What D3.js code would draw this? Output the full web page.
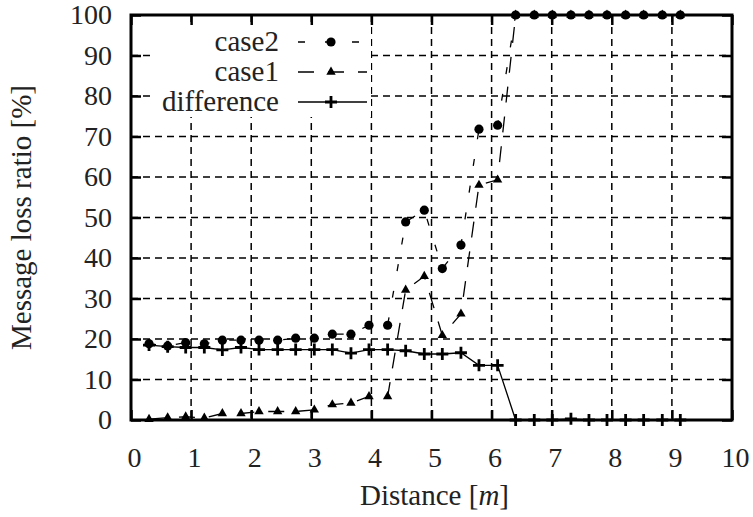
<!DOCTYPE html>
<html>
<head>
<meta charset="utf-8">
<script src="https://cdn.jsdelivr.net/npm/d3@7"></script>
<style>
body { margin: 0; background: #fff; }
text { font-family: "Liberation Serif", "Times New Roman", serif; fill: #222; }
</style>
</head>
<body>
<svg width="753" height="517"></svg>
<script>
var distance = [0.30, 0.61, 0.91, 1.22, 1.52, 1.83, 2.13, 2.44, 2.74, 3.05,
    3.35, 3.66, 3.96, 4.27, 4.57, 4.88, 5.18, 5.49, 5.79, 6.10,
    6.40, 6.71, 7.01, 7.32, 7.62, 7.92, 8.23, 8.53, 8.84, 9.14];
var case2 = [18.8, 18.3, 19.1, 18.8, 19.7, 19.7, 19.7, 19.7, 20.2, 20.2,
    21.2, 21.2, 23.4, 23.4, 48.9, 51.8, 37.4, 43.2, 71.8, 72.8,
    100, 100, 100, 100, 100, 100, 100, 100, 100, 100];
var case1 = [0.2, 0.6, 0.8, 0.5, 1.6, 1.6, 2.1, 2.1, 2.1, 2.5,
    3.8, 4.2, 5.8, 5.8, 32.1, 35.5, 20.9, 26.2, 58.0, 59.3,
    100, 100, 100, 100, 100, 100, 100, 100, 100, 100];
var difference = [18.5, 18.1, 17.9, 17.9, 17.3, 17.9, 17.4, 17.4, 17.4, 17.4,
    17.4, 16.5, 17.4, 17.4, 17.1, 16.3, 16.3, 16.6, 13.5, 13.5,
    0, 0, 0, 0.3, 0, 0, 0, 0, 0, 0];
var xTicks = [0, 1, 2, 3, 4, 5, 6, 7, 8, 9, 10];
var yTicks = [0, 10, 20, 30, 40, 50, 60, 70, 80, 90, 100];

var svg = d3.select("svg");
var plotLeft = 131, plotRight = 732, plotTop = 15, plotBottom = 420;
var width = plotRight - plotLeft, height = plotBottom - plotTop;

var x = d3.scaleLinear().domain([0, 10]).range([0, width]);
var y = d3.scaleLinear().domain([0, 100]).range([height, 0]);

var g = svg.append("g").attr("transform", "translate(" + plotLeft + "," + plotTop + ")");

// dashed grid
g.selectAll(".vgrid")
    .data(xTicks.slice(1, -1))
    .enter().append("line")
    .attr("x1", d => x(d)).attr("x2", d => x(d))
    .attr("y1", 0).attr("y2", height)
    .attr("stroke", "#000").attr("stroke-width", 1.5)
    .attr("stroke-dasharray", "7,5");
g.selectAll(".hgrid")
    .data(yTicks.slice(1, -1))
    .enter().append("line")
    .attr("x1", 0).attr("x2", width)
    .attr("y1", d => y(d)).attr("y2", d => y(d))
    .attr("stroke", "#000").attr("stroke-width", 1.5)
    .attr("stroke-dasharray", "7,5");

var series = [
    { name: "case2", values: case2, dash: "7,20", marker: "circle" },
    { name: "case1", values: case1, dash: "16,14", marker: "triangle" },
    { name: "difference", values: difference, dash: null, marker: "plus" }
];

function drawMarker(sel, type) {
    if (type == "circle") {
        sel.append("circle").attr("r", 4.6).attr("fill", "#000");
    } else if (type == "triangle") {
        sel.append("path").attr("d", d3.symbol(d3.symbolTriangle, 38)).attr("fill", "#000");
    } else {
        sel.append("path").attr("d", "M-6,0H6M0,-6V6")
            .attr("stroke", "#000").attr("stroke-width", 2.8);
    }
}

var drawOrder = [series[1], series[0], series[2]];
drawOrder.forEach(function(s) {
    var pts = distance.map((d, i) => [d, s.values[i]]);
    g.append("path")
        .datum(pts)
        .attr("fill", "none")
        .attr("stroke", "#000")
        .attr("stroke-width", 1.3)
        .attr("stroke-dasharray", s.dash)
        .attr("d", d3.line().x(d => x(d[0])).y(d => y(d[1])));
    var m = g.selectAll(".m-" + s.name)
        .data(pts)
        .enter().append("g")
        .attr("transform", d => "translate(" + x(d[0]) + "," + y(d[1]) + ")");
    drawMarker(m, s.marker);
});

// axes with inner ticks on every side
var axisStyle = function(sel) {
    sel.select(".domain").remove();
    sel.selectAll(".tick line").attr("stroke", "#000").attr("stroke-width", 2.5);
    sel.selectAll(".tick text")
        .style("font-family", "'Liberation Serif', serif")
        .style("font-size", "28px")
        .attr("fill", "#222");
};
g.append("g").attr("transform", "translate(0," + height + ")")
    .call(d3.axisBottom(x).tickValues(xTicks).tickSizeInner(-10).tickPadding(27))
    .call(axisStyle)
    .selectAll(".tick text").attr("dx", 3);
g.append("g")
    .call(d3.axisTop(x).tickValues(xTicks).tickSizeInner(-10).tickFormat(""))
    .call(axisStyle);
g.append("g")
    .call(d3.axisLeft(y).tickValues(yTicks).tickSizeInner(-10).tickPadding(19))
    .call(axisStyle);
g.append("g").attr("transform", "translate(" + width + ",0)")
    .call(d3.axisRight(y).tickValues(yTicks).tickSizeInner(-10).tickFormat(""))
    .call(axisStyle);

g.append("rect")
    .attr("width", width).attr("height", height)
    .attr("fill", "none").attr("stroke", "#000").attr("stroke-width", 3);

// legend
var legend = g.append("g");
series.forEach(function(s, i) {
    var ly = 27 + i * 30;
    var row = legend.append("g").attr("transform", "translate(0," + ly + ")");
    row.append("rect").attr("x", 22).attr("y", -15).attr("width", 218).attr("height", 30).attr("fill", "#fff");
    row.append("text")
        .attr("x", 148).attr("y", 9)
        .attr("text-anchor", "end")
        .style("font-size", "29px")
        .text(s.name);
    row.append("line")
        .attr("x1", 167).attr("x2", 236)
        .attr("stroke", "#000").attr("stroke-width", 1.3)
        .attr("stroke-dasharray", s.dash);
    var mk = row.append("g").attr("transform", "translate(200,0)");
    drawMarker(mk, s.marker);
});

svg.append("text")
    .attr("x", plotLeft + width / 2 + 3).attr("y", 505)
    .attr("text-anchor", "middle")
    .style("font-size", "29px")
    .html("Distance [<tspan font-style='italic'>m</tspan>]");

svg.append("text")
    .attr("transform", "translate(31," + (plotTop + height / 2) + ") rotate(-90)")
    .attr("text-anchor", "middle")
    .style("font-size", "29px")
    .text("Message loss ratio [%]");
</script>
</body>
</html>
